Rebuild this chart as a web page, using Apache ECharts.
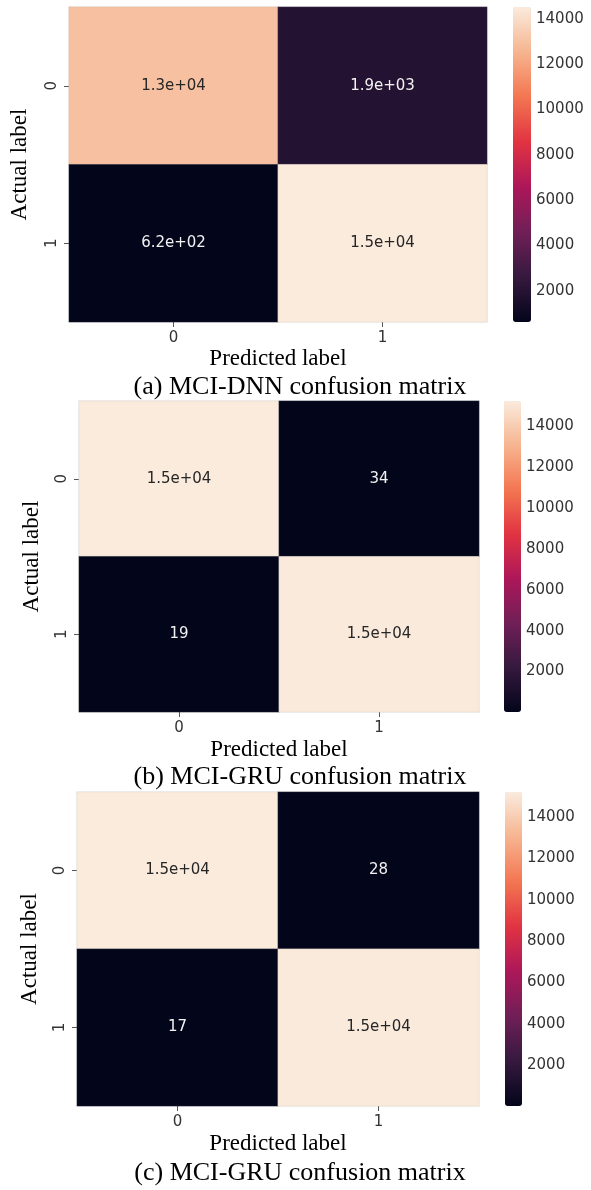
<!DOCTYPE html>
<html>
<head>
<meta charset="utf-8">
<script src="https://cdn.jsdelivr.net/npm/echarts@6/dist/echarts.min.js"></script>
<style>
  html, body { margin: 0; padding: 0; background: #ffffff; }
  #chart { width: 591px; height: 1190px; }
</style>
</head>
<body>
<div id="chart"></div>
<script>
// Class labels shared by both axes of every matrix
const categories = ['0', '1'];

// Confusion matrices: rows = actual label, columns = predicted label
const dnnMatrix = [
  [13000, 1900],
  [620, 14520]
];
const gruMatrixB = [
  [15240, 34],
  [19, 15190]
];
const gruMatrixC = [
  [15210, 28],
  [17, 15190]
];

// Colour-bar tick values
const colorbarTicks = [2000, 4000, 6000, 8000, 10000, 12000, 14000];

// Captions and axis titles
const captions = [
  '(a) MCI-DNN confusion matrix',
  '(b) MCI-GRU confusion matrix',
  '(c) MCI-GRU confusion matrix'
];
const xTitle = 'Predicted label';
const yTitle = 'Actual label';

// "rocket" sequential palette, low -> high
const rocket = ['#03051a', '#35193e', '#701f57', '#ad1759', '#e13342', '#f37651', '#f6b48f', '#faebdd'];

// Compact general format with two significant digits (1.3e+04, 34, ...)
function fmtG(v) {
  if (v === 0) return '0';
  const e = Math.floor(Math.log10(Math.abs(v)));
  if (e >= 2 || e < -4) {
    const parts = v.toExponential(1).split('e');
    const sign = parts[1][0];
    const digits = parts[1].slice(1).padStart(2, '0');
    return parts[0] + 'e' + sign + digits;
  }
  return String(Number(v.toPrecision(2)));
}

const tickFont = 'DejaVu Sans';
const serifFont = 'Liberation Serif';

const layouts = [
  { m: dnnMatrix,  grid: { left: 68, top: 7,   width: 419, height: 315 }, barLeft: 513, barWidth: 18, captionY: 387,  gapX: 25, gapY: 38 },
  { m: gruMatrixB, grid: { left: 79, top: 401, width: 400, height: 311 }, barLeft: 504, barWidth: 17, captionY: 777,  gapX: 26, gapY: 36 },
  { m: gruMatrixC, grid: { left: 77, top: 792, width: 402, height: 314 }, barLeft: 505, barWidth: 17, captionY: 1173, gapX: 26, gapY: 36 }
];

const option = {
  animation: false,
  backgroundColor: '#ffffff',
  grid: [], xAxis: [], yAxis: [], visualMap: [], series: [], graphic: []
};

layouts.forEach(function (p, i) {
  const flat = p.m.flat();
  const vmin = Math.min.apply(null, flat);
  const vmax = Math.max.apply(null, flat);
  const hg = 2 * i, cg = 2 * i + 1;

  // heatmap area
  option.grid.push(Object.assign({ containLabel: false }, p.grid));
  // colour-bar axis area, aligned to the gradient bar
  option.grid.push({ left: p.barLeft, top: p.grid.top, width: p.barWidth, height: p.grid.height });

  option.xAxis.push({
    type: 'category', gridIndex: hg, data: categories, position: 'bottom',
    axisLine: { show: false },
    axisTick: { show: true, alignWithLabel: true, length: 5, lineStyle: { color: '#555', width: 1 } },
    axisLabel: { fontFamily: tickFont, fontSize: 15, color: '#333', margin: 9 },
    splitLine: { show: false },
    name: xTitle, nameLocation: 'middle', nameGap: p.gapX,
    nameTextStyle: { fontFamily: serifFont, fontSize: 23, color: '#000' }
  });
  option.yAxis.push({
    type: 'category', gridIndex: hg, data: categories, inverse: true,
    axisLine: { show: false },
    axisTick: { show: true, alignWithLabel: true, length: 5, lineStyle: { color: '#555', width: 1 } },
    axisLabel: { fontFamily: tickFont, fontSize: 15, color: '#333', margin: 9, rotate: 90 },
    splitLine: { show: false },
    name: yTitle, nameLocation: 'middle', nameGap: p.gapY,
    nameTextStyle: { fontFamily: serifFont, fontSize: 23, color: '#000' }
  });

  option.xAxis.push({ type: 'value', gridIndex: cg, show: false, min: 0, max: 1 });
  option.yAxis.push({
    type: 'value', gridIndex: cg, position: 'right', min: vmin, max: vmax,
    axisLine: { show: false },
    splitLine: { show: false },
    axisTick: { show: true, length: 4, customValues: colorbarTicks, lineStyle: { color: '#555' } },
    axisLabel: {
      show: true, customValues: colorbarTicks, fontFamily: tickFont, fontSize: 15, color: '#333', margin: 5,
      formatter: function (v) { return String(v); }
    }
  });

  option.visualMap.push({
    type: 'continuous', seriesIndex: i, min: vmin, max: vmax,
    calculable: false, hoverLink: false, realtime: false,
    left: p.barLeft, top: p.grid.top, padding: 0,
    itemWidth: p.barWidth, itemHeight: p.grid.height,
    inRange: { color: rocket },
    textStyle: { color: 'transparent' }
  });

  const data = [];
  p.m.forEach(function (row, r) {
    row.forEach(function (v, c) {
      const t = (v - vmin) / (vmax - vmin);
      data.push({ value: [c, r, v], label: { color: t > 0.5 ? '#262626' : '#f2f2f2' } });
    });
  });

  option.series.push({
    type: 'heatmap', xAxisIndex: hg, yAxisIndex: hg, data: data,
    itemStyle: { borderColor: 'rgba(150,150,150,0.35)', borderWidth: 0.6 },
    label: {
      show: true, fontFamily: tickFont, fontSize: 15,
      formatter: function (d) { return fmtG(d.value[2]); }
    },
    emphasis: { disabled: true }
  });

  option.graphic.push({
    type: 'text', x: 300, y: p.captionY,
    style: {
      text: captions[i], fontFamily: serifFont, fontSize: 26, fill: '#000',
      textAlign: 'center', textVerticalAlign: 'middle'
    }
  });
});

const chart = echarts.init(document.getElementById('chart'), null, { renderer: 'canvas' });
chart.setOption(option);
</script>
</body>
</html>
